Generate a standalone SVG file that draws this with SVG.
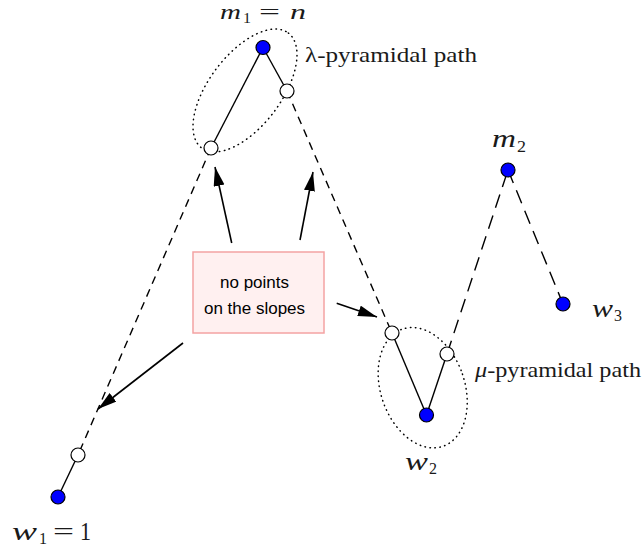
<svg xmlns="http://www.w3.org/2000/svg" width="642" height="549" viewBox="0 0 642 549">
<style>
.solid{stroke:#000;stroke-width:1.4;fill:none}
.dash{stroke:#000;stroke-width:1.4;fill:none;stroke-dasharray:8 6}
.ldash{stroke:#000;stroke-width:1.4;fill:none;stroke-dasharray:14 8}
.arrow{stroke:#000;stroke-width:1.6;fill:none}
.dot{stroke:#000;stroke-width:1.5;fill:none;stroke-dasharray:0.5 4.5;stroke-linecap:round}
.blue{fill:#0000ff;stroke:#000;stroke-width:1.2}
.open{fill:#fff;stroke:#000;stroke-width:1.2}
.mi{font-family:"Liberation Serif",serif;font-style:italic;fill:#1a1a1a}
.mr{font-family:"Liberation Serif",serif;fill:#1a1a1a}
.lbl{font-family:"Liberation Serif",serif;font-size:21px;fill:#1a1a1a}
.box{fill:#fff0f0;stroke:#f4a3a3;stroke-width:1.5}
.bt{font-family:"Liberation Sans",Arial,sans-serif;font-size:17px;fill:#000;text-anchor:middle}
</style>
<defs>
<marker id="ah" markerUnits="userSpaceOnUse" markerWidth="22" markerHeight="12" refX="19" refY="5.5" orient="auto">
<path d="M0,0 L19,5.5 L0,11 z" fill="#000"/>
</marker>
</defs>
<g id="connectors">
<line class="dash" x1="287" y1="91" x2="392" y2="333"/>
<line class="dash" x1="211" y1="148" x2="78" y2="455"/>
<line class="ldash" x1="447" y1="354" x2="508" y2="170"/>
<line class="ldash" x1="508" y1="170" x2="563" y2="304"/>
<line class="solid" x1="211" y1="148" x2="263" y2="47.5"/>
<line class="solid" x1="263" y1="47.5" x2="287" y2="91"/>
<line class="solid" x1="78" y1="455" x2="58" y2="497"/>
<line class="solid" x1="392" y1="333" x2="426.5" y2="415"/>
<line class="solid" x1="426.5" y1="415" x2="447" y2="354"/>
<line class="arrow" x1="231.7" y1="243" x2="215" y2="167" marker-end="url(#ah)"/>
<line class="arrow" x1="300" y1="240" x2="313" y2="172" marker-end="url(#ah)"/>
<line class="arrow" x1="336.7" y1="303.3" x2="377" y2="317" marker-end="url(#ah)"/>
<line class="arrow" x1="183" y1="343" x2="98" y2="409" marker-end="url(#ah)"/>
</g>
<g id="lambda-group">
<ellipse class="dot" cx="245" cy="90.5" rx="72" ry="36" transform="rotate(-53 245 90.5)"/>
<text class="lbl" x="305" y="62" textLength="172" lengthAdjust="spacingAndGlyphs">λ-pyramidal path</text>
</g>
<g id="mu-group">
<ellipse class="dot" cx="422.7" cy="387.7" rx="42" ry="62" transform="rotate(-19 422.7 387.7)"/>
<text class="lbl" x="475" y="377" textLength="166" lengthAdjust="spacingAndGlyphs"><tspan font-style="italic">μ</tspan>-pyramidal path</text>
</g>
<g id="m1">
<circle class="blue" cx="263" cy="47.5" r="7"/>
<text class="mi" x="220" y="19" font-size="21" textLength="21" lengthAdjust="spacingAndGlyphs">m</text>
<text class="mr" x="243" y="23" font-size="15" textLength="8" lengthAdjust="spacingAndGlyphs">1</text>
<text class="mr" x="259" y="19" font-size="21" textLength="21" lengthAdjust="spacingAndGlyphs">=</text>
<text class="mi" x="290" y="19" font-size="21" textLength="16" lengthAdjust="spacingAndGlyphs">n</text>
</g>
<g id="p1"><circle class="open" cx="287" cy="91" r="7"/></g>
<g id="p2"><circle class="open" cx="211" cy="148" r="7"/></g>
<g id="p3"><circle class="open" cx="78" cy="455" r="7"/></g>
<g id="w1">
<circle class="blue" cx="58" cy="497" r="7"/>
<text class="mi" x="12" y="540" font-size="26" textLength="25" lengthAdjust="spacingAndGlyphs">w</text>
<text class="mr" x="39" y="544" font-size="16" textLength="8" lengthAdjust="spacingAndGlyphs">1</text>
<text class="mr" x="53" y="540" font-size="26" textLength="21" lengthAdjust="spacingAndGlyphs">=</text>
<text class="mr" x="80" y="540" font-size="26" textLength="11" lengthAdjust="spacingAndGlyphs">1</text>
</g>
<g id="p4"><circle class="open" cx="392" cy="333" r="7"/></g>
<g id="p5"><circle class="open" cx="447" cy="354" r="7"/></g>
<g id="w2">
<circle class="blue" cx="426.5" cy="415" r="7"/>
<text class="mi" x="405" y="470" font-size="25" textLength="23" lengthAdjust="spacingAndGlyphs">w</text>
<text class="mr" x="429" y="474" font-size="16" textLength="8" lengthAdjust="spacingAndGlyphs">2</text>
</g>
<g id="m2">
<circle class="blue" cx="508" cy="170" r="7"/>
<text class="mi" x="492" y="147" font-size="25" textLength="24" lengthAdjust="spacingAndGlyphs">m</text>
<text class="mr" x="517" y="152" font-size="16" textLength="9" lengthAdjust="spacingAndGlyphs">2</text>
</g>
<g id="w3">
<circle class="blue" cx="563" cy="304" r="7"/>
<text class="mi" x="592" y="317" font-size="25" textLength="21" lengthAdjust="spacingAndGlyphs">w</text>
<text class="mr" x="614" y="321" font-size="16" textLength="8" lengthAdjust="spacingAndGlyphs">3</text>
</g>
<g id="note">
<rect class="box" x="193" y="252" width="131" height="81"/>
<text class="bt" x="254.5" y="288">no points</text>
<text class="bt" x="254.5" y="314">on the slopes</text>
</g>
</svg>
